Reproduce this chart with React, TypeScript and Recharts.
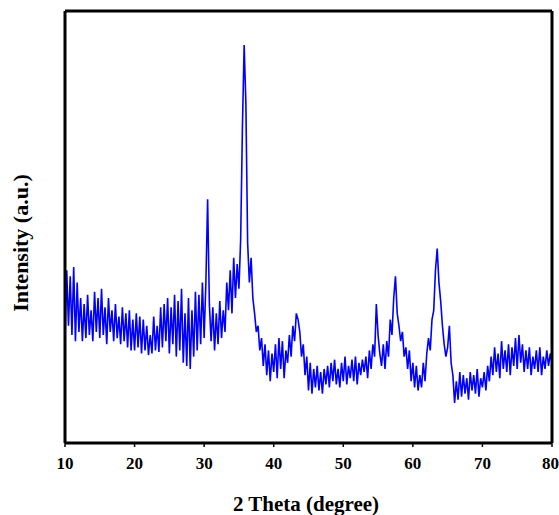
import React from 'react';
import { LineChart, Line, XAxis, YAxis, Label } from 'recharts';

// 2 theta sampled every 0.25 degree from 10 to 80
const START = 10;
const STEP = 0.25;

// intensity (a.u.)
const intensity: number[] = [
  330, 560, 380, 540, // 10
  350, 570, 330, 520, // 11
  360, 470, 330, 450, // 12
  340, 480, 350, 430, // 13
  330, 490, 360, 470, // 14
  340, 500, 350, 440, // 15
  320, 470, 360, 430, // 16
  330, 450, 340, 410, // 17
  320, 440, 330, 420, // 18
  310, 430, 300, 400, // 19
  300, 420, 310, 410, // 20
  290, 400, 300, 380, // 21
  285, 350, 290, 410, // 22
  300, 380, 295, 440, // 23
  310, 450, 330, 470, // 24
  290, 440, 320, 480, // 25
  280, 460, 300, 500, // 26
  260, 420, 250, 470, // 27
  240, 430, 280, 490, // 28
  300, 480, 320, 520, // 29
  340, 520, 790, 450, // 30
  330, 440, 300, 420, // 31
  320, 460, 340, 430, // 32
  360, 520, 430, 560, // 33
  420, 600, 470, 580, // 34
  500, 660, 1020, 1290, // 35
  1100, 650, 520, 600, // 36
  470, 420, 360, 380, // 37
  300, 340, 250, 320, // 38
  220, 300, 200, 290, // 39
  230, 320, 210, 340, // 40
  240, 330, 210, 300, // 41
  260, 350, 280, 380, // 42
  330, 420, 400, 360, // 43
  280, 320, 220, 280, // 44
  170, 260, 160, 240, // 45
  180, 250, 170, 230, // 46
  160, 240, 190, 250, // 47
  180, 260, 200, 270, // 48
  190, 240, 180, 260, // 49
  200, 280, 190, 250, // 50
  210, 270, 200, 280, // 51
  190, 260, 220, 270, // 52
  230, 280, 210, 300, // 53
  240, 320, 280, 450, // 54
  350, 290, 250, 320, // 55
  240, 330, 280, 400, // 56
  350, 470, 540, 420, // 57
  380, 330, 360, 280, // 58
  310, 240, 300, 200, // 59
  260, 180, 250, 170, // 60
  220, 180, 260, 200, // 61
  290, 340, 300, 400, // 62
  430, 560, 630, 520, // 63
  460, 380, 320, 280, // 64
  310, 380, 260, 220, // 65
  130, 200, 140, 230, // 66
  150, 220, 160, 210, // 67
  140, 230, 170, 220, // 68
  160, 240, 150, 210, // 69
  180, 230, 170, 250, // 70
  200, 280, 220, 310, // 71
  230, 290, 210, 330, // 72
  240, 300, 230, 320, // 73
  220, 310, 250, 340, // 74
  240, 350, 260, 320, // 75
  230, 300, 240, 310, // 76
  220, 280, 240, 300, // 77
  230, 310, 220, 280, // 78
  240, 300, 250, 290, // 79
  260, // 80
];

const xTicks = [10, 20, 30, 40, 50, 60, 70, 80];
const topTicks = [10, 15, 20, 25, 30, 35, 40, 45, 50, 55, 60, 65, 70, 75, 80];
const yTicks = [0, 100, 200, 300, 400, 500, 600, 700, 800, 900, 1000, 1100, 1200, 1300, 1400];

const data = intensity.map((v, i) => ({ theta: START + i * STEP, value: v }));

const FONT = "'Times New Roman', 'Liberation Serif', serif";
const axisLine = { stroke: '#000', strokeWidth: 3 };
const tickLine = { stroke: '#000', strokeWidth: 1.5 };

const App: React.FC = () => {
  return (
    <div style={{ position: 'absolute', left: 0, top: 0, width: 559, height: 515, background: '#fff' }}>
      <LineChart width={559} height={515} data={data} margin={{ top: 11, right: 7, left: 65, bottom: 42 }}>
        <XAxis
          dataKey="theta"
          type="number"
          domain={[10, 80]}
          ticks={xTicks}
          height={30}
          axisLine={axisLine}
          tickLine={tickLine}
          tickSize={4}
          tickMargin={10}
          tick={{ fill: '#000', fontSize: 17, fontWeight: 'bold', fontFamily: FONT }}
        >
          <Label
            content={() => (
              <text x={306} y={511} textAnchor="middle" fontSize={21} fontWeight="bold" fontFamily={FONT} fill="#000">
                2 Theta (degree)
              </text>
            )}
          />
        </XAxis>
        <XAxis
          xAxisId="top"
          orientation="top"
          type="number"
          domain={[10, 80]}
          ticks={topTicks}
          height={1}
          mirror
          axisLine={axisLine}
          tickLine={tickLine}
          tickSize={3}
          tick={false}
        />
        <YAxis
          type="number"
          domain={[0, 1400]}
          ticks={yTicks}
          width={1}
          mirror
          axisLine={axisLine}
          tickLine={tickLine}
          tickSize={3}
          tick={false}
        >
          <Label
            content={() => (
              <text
                x={28}
                y={243}
                transform="rotate(-90 28 243)"
                textAnchor="middle"
                fontSize={22}
                fontWeight="bold"
                fontFamily={FONT}
                fill="#000"
              >
                Intensity (a.u.)
              </text>
            )}
          />
        </YAxis>
        <YAxis
          yAxisId="right"
          orientation="right"
          type="number"
          domain={[0, 1400]}
          ticks={yTicks}
          width={1}
          mirror
          axisLine={axisLine}
          tickLine={tickLine}
          tickSize={3}
          tick={false}
        />
        <Line
          type="linear"
          dataKey="value"
          stroke="#0000ff"
          strokeWidth={1.6}
          dot={false}
          isAnimationActive={false}
        />
      </LineChart>
    </div>
  );
};

export default App;
